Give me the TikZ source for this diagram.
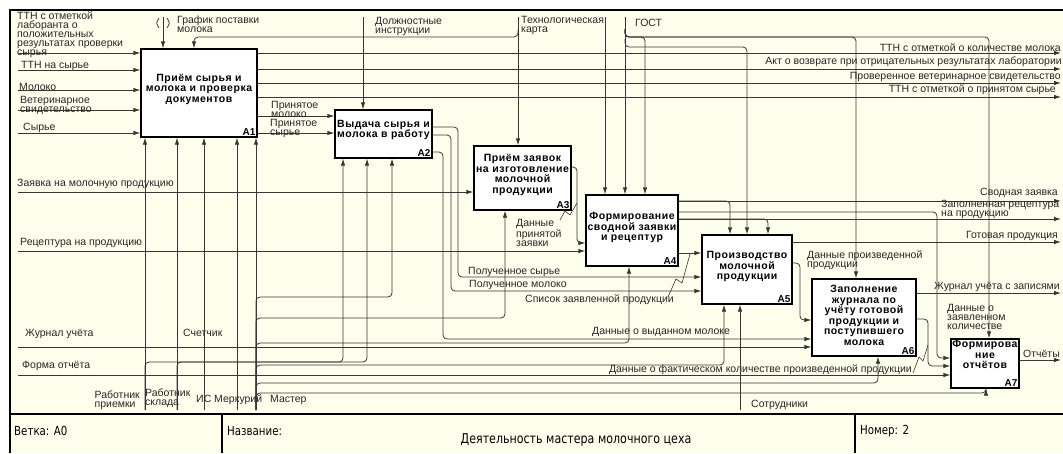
\documentclass[tikz,border=0pt]{standalone}
\usepackage{fontspec}
\setmainfont{Liberation Sans}
\newfontfamily\boxfont[LetterSpace=5]{Liberation Sans}
\newfontfamily\framefont[FakeStretch=0.82]{DejaVu Sans}
\usetikzlibrary{arrows.meta}
\definecolor{paper}{RGB}{255,255,238}
\definecolor{wire}{RGB}{55,55,55}

\begin{document}
\begin{tikzpicture}[x=1pt,y=-1pt,
    wire/.style={draw=wire,line width=0.8pt,rounded corners=4pt},
    flow/.style={wire,-{Latex[length=7pt,width=4.5pt]}},
    squig/.style={draw=wire,line width=0.6pt},
    act/.style={draw,line width=1.3pt,fill=white,inner sep=0pt},
    acttxt/.style={font=\boxfont\bfseries\fontsize{10.5}{10.5}\selectfont,align=center,inner sep=0pt},
    actnum/.style={font=\bfseries\fontsize{10}{10}\selectfont,anchor=south east,inner sep=2pt},
    lbl/.style={font=\fontsize{10.5}{9}\selectfont,inner sep=0pt,text=black!85,align=left},
    ttl/.style={font=\framefont\fontsize{12.5}{13}\selectfont,inner sep=0pt}]
    \useasboundingbox (0,0) rectangle (1063,453);
    % Sheet and frame
    \fill[white] (0,0) rectangle (1063,453);
    \fill[paper] (10,10) rectangle (1063,453);
    \draw[line width=2.5pt] (10,453) -- (10,10) -- (1063,10);
    \draw[line width=2pt] (10,414) -- (1063,414);
    \draw[line width=1.2pt] (222,414) -- (222,453);
    \draw[line width=1.2pt] (855,414) -- (855,453);
    \node[ttl,anchor=west] (branch) at (14,431) {Ветка: A0};
    \node[ttl,anchor=west] (titlekey) at (227,431) {Название:};
    \node[ttl,font=\framefont\fontsize{13.5}{14}\selectfont] (title) at (576,440) {Деятельность мастера молочного цеха};
    \node[ttl,anchor=west] (sheetno) at (860,431) {Номер: 2};

    % Activities
    \node[act,minimum width=116pt,minimum height=88pt] (a1) at (199,93) {};
    \node[act,minimum width=97pt,minimum height=48pt] (a2) at (383.5,134) {};
    \node[act,minimum width=97pt,minimum height=64pt] (a3) at (522.5,178) {};
    \node[act,minimum width=92pt,minimum height=71pt] (a4) at (632,230.5) {};
    \node[act,minimum width=90pt,minimum height=69pt] (a5) at (747,269.5) {};
    \node[act,minimum width=104pt,minimum height=77pt] (a6) at (864,317.5) {};
    \node[act,minimum width=68pt,minimum height=49pt] (a7) at (985,363.5) {};
    \node[acttxt] (a1txt) at ([yshift=4pt]a1.center) {Приём сырья и\\молока и проверка\\документов};
    \node[acttxt] (a2txt) at ([yshift=4pt]a2.center) {Выдача сырья и\\молока в работу};
    \node[acttxt] (a3txt) at ([yshift=3pt]a3.center) {Приём заявок\\на изготовление\\молочной\\продукции};
    \node[acttxt] (a4txt) at ([yshift=3pt]a4.center) {Формирование\\сводной заявки\\и рецептур};
    \node[acttxt] (a5txt) at ([yshift=3pt]a5.center) {Производство\\молочной\\продукции};
    \node[acttxt] (a6txt) at ([yshift=2pt]a6.center) {Заполнение\\журнала по\\учёту готовой\\продукции и\\поступившего\\молока};
    \node[acttxt] (a7txt) at ([yshift=9pt]a7.center) {Формирова\\ние\\отчётов};
    \node[actnum] (a1num) at (a1.south east) {A1};
    \node[actnum] (a2num) at (a2.south east) {A2};
    \node[actnum] (a3num) at (a3.south east) {A3};
    \node[actnum] (a4num) at (a4.south east) {A4};
    \node[actnum] (a5num) at (a5.south east) {A5};
    \node[actnum] (a6num) at (a6.south east) {A6};
    \node[actnum] (a7num) at (a7.south east) {A7};

    % Inputs from the left border
    \draw[flow] (18,53) -- (a1.west |- 0,53);
    \draw[flow] (18,70) -- (a1.west |- 0,70);
    \draw[flow] (18,90) -- (a1.west |- 0,90);
    \draw[flow] (18,110) -- (a1.west |- 0,110);
    \draw[flow] (18,133) -- (a1.west |- 0,133);
    \draw[flow] (18,192) -- (a3.west |- 0,192);
    \draw[flow] (18,251) -- (a4.west |- 0,251);
    \draw[flow] (18,347) -- (a6.west |- 0,347);
    \draw[flow] (18,375) -- (a7.west |- 0,375);
    \node[lbl,anchor=north west] (ttnlab) at (17,12) {ТТН с отметкой\\лаборанта о\\положительных\\результатах проверки\\сырья};
    \node[lbl,anchor=west] (ttnraw) at (21,66) {ТТН на сырье};
    \node[lbl,anchor=west] (milk) at (19,87) {Молоко};
    \node[lbl,anchor=west] (vetcert) at (20,105) {Ветеринарное\\свидетельство};
    \node[lbl,anchor=west] (raw) at (23,128) {Сырье};
    \node[lbl,anchor=west] (order) at (17,184) {Заявка на молочную продукцию};
    \node[lbl,anchor=west] (recipe) at (20,243) {Рецептура на продукцию};
    \node[lbl,anchor=west] (journal) at (25,334) {Журнал учёта};
    \node[lbl,anchor=west] (form) at (22,366) {Форма отчёта};

    % Controls from the top border
    \draw[flow] (163,17) -- (a1.north -| 163,0);
    \draw[wire] (159,18) .. controls (156,23) .. (159,28);
    \draw[wire] (167,18) .. controls (170,23) .. (167,28);
    \draw[flow] (518,30) |- (194,37) -- (a1.north -| 194,0);
    \draw[flow] (363,17) -- (a2.north -| 363,0);
    \draw[flow] (518,17) -- (a3.north -| 518,0);
    \draw[flow] (605,17) -- (a4.north -| 605,0);
    \draw[flow] (625,17) -- (a4.north -| 625,0);
    \draw[flow] (625,29) |- (645,37) -- (a4.north -| 645,0);
    \draw[flow] (625,39) |- (747,47) -- (a5.north -| 747,0);
    \draw[flow] (625,29) |- (856,37) -- (a6.north -| 856,0);
    \draw[flow] (625,29) |- (989,37) -- (a7.north -| 989,0);
    \node[lbl,anchor=west] (plan) at (177,24) {График поставки\\молока};
    \node[lbl,anchor=west] (duty) at (375,26) {Должностные\\инструкции};
    \node[lbl,anchor=west] (techmap) at (521,25) {Технологическая\\карта};
    \node[lbl,anchor=west] (gost) at (635,23) {ГОСТ};

    % Outputs of A1
    \draw[flow] (a1.east |- 0,53) -- (1061,53);
    \draw[flow] (a1.east |- 0,69) -- (1061,69);
    \draw[flow] (a1.east |- 0,83) -- (1061,83);
    \draw[flow] (a1.east |- 0,97) -- (1061,97);
    \draw[flow] (a1.east |- 0,116) -- (a2.west |- 0,116);
    \draw[flow] (a1.east |- 0,133) -- (a2.west |- 0,133);
    \node[lbl,anchor=east] (ttnmilk) at (1061,48) {ТТН с отметкой о количестве молока};
    \node[lbl,anchor=east] (act) at (1062,62) {Акт о возврате при отрицательных результатах лаборатории};
    \node[lbl,anchor=east] (vetok) at (1061,77) {Проверенное ветеринарное свидетельство};
    \node[lbl,anchor=east] (ttnok) at (1056,90) {ТТН с отметкой о принятом сырье};
    \node[lbl,anchor=west] (gotmilk) at (271,109) {Принятое\\молоко};
    \node[lbl,anchor=west] (gotraw) at (270,128) {Принятое\\сырье};

    % Outputs of A2
    \draw[flow] (a2.east |- 0,127) -| (458,277) -- (a5.west |- 0,277);
    \draw[flow] (a2.east |- 0,135) -| (451,291) -- (a5.west |- 0,291);
    \draw[flow] (a2.east |- 0,152) -| (443,339) -- (a6.west |- 0,339);
    \node[lbl,anchor=west] (rcvraw) at (468,272) {Полученное сырье};
    \node[lbl,anchor=west] (rcvmilk) at (469,285) {Полученное молоко};
    \node[lbl,anchor=west] (issued) at (592,332) {Данные о выданном молоке};

    % Outputs of A3 and A4
    \draw[flow] (a3.east |- 0,167) -| (577,243) -- (a4.west |- 0,243);
    \draw[squig] (560,220) -- (565,211) -- (570,215) -- (577,203);
    \node[lbl,anchor=west] (orderdata) at (516,233) {Данные\\принятой\\заявки};
    \draw[flow] (a4.east |- 0,201) -- (1061,201);
    \draw[flow] (a4.east |- 0,201) -| (a5.north -| 730,0);
    \draw[flow] (a4.east |- 0,212) -| (937,358) -- (a7.west |- 0,358);
    \draw[flow] (a4.east |- 0,219) -- (1061,219);
    \draw[flow] (a4.east |- 0,219) -| (a5.north -| 768,0);
    \draw[flow] (a4.east |- 0,253) -- (a5.west |- 0,253);
    \draw[squig] (668,297) -- (676,279) -- (682,283) -- (690,254);
    \node[lbl,anchor=east] (summary) at (1058,193) {Сводная заявка};
    \node[lbl,anchor=west] (fillrec) at (941,209) {Заполненная рецептура\\на продукцию};
    \node[lbl,anchor=west] (listprod) at (525,300) {Список заявленной продукции};
    \node[lbl,anchor=west] (ordqty) at (947,317) {Данные о\\заявленном\\количестве};

    % Outputs of A5, A6, A7
    \draw[flow] (a5.east |- 0,242) -- (1061,242);
    \draw[flow] (a5.east |- 0,263) -| (800,320) -- (a6.west |- 0,320);
    \draw[flow] (a6.east |- 0,293) -- (1061,293);
    \draw[flow] (a6.east |- 0,319) -| (928,366) -- (a7.west |- 0,366);
    \draw[squig] (913,373) -- (919,357) -- (923,361) -- (928,345);
    \draw[flow] (a7.east |- 0,360) -- (1061,360);
    \node[lbl,anchor=east] (ready) at (1058,236) {Готовая продукция};
    \node[lbl,anchor=west] (proddata) at (807,260) {Данные произведенной\\продукции};
    \node[lbl,anchor=east] (jrnok) at (1060,287) {Журнал учёта с записями};
    \node[lbl,anchor=east] (factqty) at (912,370) {Данные о фактическом количестве произведенной продукции};
    \node[lbl,anchor=east] (reports) at (1060,354) {Отчёты};

    % Mechanisms from the bottom
    \draw[flow] (145,410) -- (a1.south -| 145,0);
    \draw[flow] (177,410) -- (a1.south -| 177,0);
    \draw[flow] (204,410) -- (a1.south -| 204,0);
    \draw[flow] (237,410) -- (a1.south -| 237,0);
    \draw[flow] (256,410) -- (a1.south -| 256,0);
    \draw[flow] (145,410) |- (343,362) -- (a2.south -| 343,0);
    \draw[flow] (177,410) |- (367,362) -- (a2.south -| 367,0);
    \draw[flow] (256,410) |- (392,297) -- (a2.south -| 392,0);
    \draw[flow] (256,410) |- (505,318) -- (a3.south -| 505,0);
    \draw[flow] (256,410) |- (629,343) -- (a4.south -| 629,0);
    \draw[flow] (256,410) |- (724,365) -- (a5.south -| 724,0);
    \draw[flow] (256,410) |- (878,383) -- (a6.south -| 878,0);
    \draw[flow] (256,410) |- (986,393) -- (a7.south -| 986,0);
    \draw[flow] (740,410) -- (a5.south -| 740,0);
    \node[lbl,anchor=west] (meter) at (183,333) {Счетчик};
    \node[lbl,anchor=east] (recv) at (140,400) {Работник\\приемки};
    \node[lbl,anchor=west] (store) at (145,398) {Работник\\склада};
    \node[lbl,anchor=west] (merc) at (196,400) {ИС Меркурий};
    \node[lbl,anchor=west] (master) at (270,400) {Мастер};
    \node[lbl,anchor=west] (staff) at (751,405) {Сотрудники};
\end{tikzpicture}
\end{document}
